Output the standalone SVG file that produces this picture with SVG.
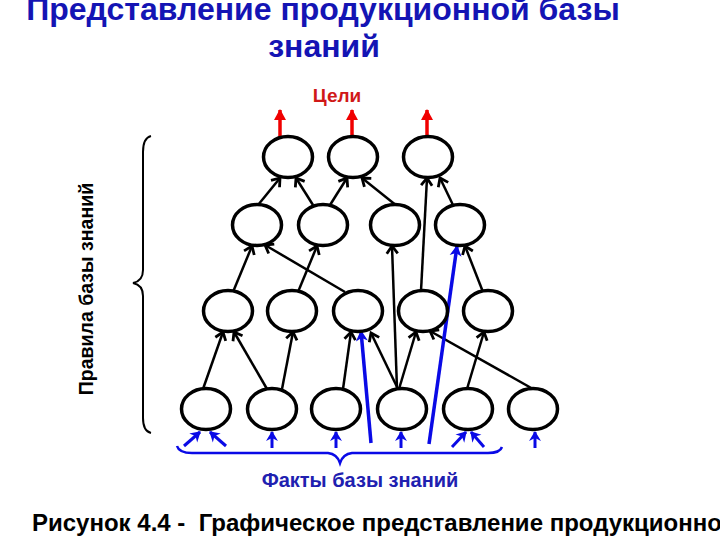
<svg xmlns="http://www.w3.org/2000/svg" width="720" height="540" viewBox="0 0 720 540">
<style>
.node{fill:#fff;stroke:#000;stroke-width:3.5}
.e{stroke:#000;stroke-width:2.5;fill:none;marker-end:url(#ab)}
.bl{stroke:#0a0ae6;stroke-width:3.5;fill:none;marker-end:url(#abl)}
.bs{stroke:#0a0ae6;stroke-width:3;fill:none;marker-end:url(#abs)}
.rd{stroke:#f00000;stroke-width:3.5;fill:none;marker-end:url(#ar)}
.t{font-family:"Liberation Sans",Arial,sans-serif;font-weight:bold}
</style>
<defs>
<marker id="ab" markerUnits="userSpaceOnUse" markerWidth="16" markerHeight="16" viewBox="-10 -8 12 16" refX="0" refY="0" orient="auto">
<path d="M-7.5,-5.5 L0,0 L-7.5,5.5" fill="none" stroke="#000" stroke-width="2.8"/>
</marker>
<marker id="abl" markerUnits="userSpaceOnUse" markerWidth="16" markerHeight="16" viewBox="-12 -8 14 16" refX="0" refY="0" orient="auto">
<path d="M1,0 L-10,-6 L-7,0 L-10,6 Z" fill="#0a0ae6"/>
</marker>
<marker id="abs" markerUnits="userSpaceOnUse" markerWidth="16" markerHeight="16" viewBox="-12 -8 14 16" refX="0" refY="0" orient="auto">
<path d="M1,0 L-9,-6 L-6,0 L-9,6 Z" fill="#0a0ae6"/>
</marker>
<marker id="ar" markerUnits="userSpaceOnUse" markerWidth="16" markerHeight="16" viewBox="-12 -8 14 16" refX="0" refY="0" orient="auto">
<path d="M1,0 L-10,-6 L-10,6 Z" fill="#f00000"/>
</marker>
</defs>
<rect width="720" height="540" fill="#fff"/>
<g id="title">
<text class="t" x="323" y="20" font-size="32" fill="#1414b4" text-anchor="middle">Представление продукционной базы</text>
<text class="t" x="324" y="57" font-size="32" fill="#1414b4" text-anchor="middle">знаний</text>
</g>
<g id="goals-label"><text class="t" x="337" y="102" font-size="19" fill="#d01818" text-anchor="middle">Цели</text></g>
<g id="rules-label">
<text class="t" x="0" y="0" font-size="19.5" fill="#000" text-anchor="middle" transform="translate(93,289) rotate(-90)">Правила базы знаний</text>
<path d="M151,136 Q143,138 143,152 L143,270 Q143,281 133,283 Q143,285 143,296 L143,418 Q143,431 151,433" fill="none" stroke="#000" stroke-width="2"/>
</g>
<g id="facts-label">
<path d="M177,446 Q179,453 192,453 L328,453 Q337,454 340,463 Q343,454 352,453 L488,453 Q500,453 502,447" fill="none" stroke="#0a0ae6" stroke-width="2.5"/>
<text class="t" x="360" y="487" font-size="20" fill="#2020b0" text-anchor="middle">Факты базы знаний</text>
</g>
<g id="connectors">
<path class="rd" d="M280,137 L280,110"/>
<path class="rd" d="M352,137 L352,110"/>
<path class="rd" d="M427,137 L427,110"/>
<path class="e" d="M258,205 L280,178"/>
<path class="e" d="M313,205 L296,178"/>
<path class="e" d="M330,205 L347,178"/>
<path class="e" d="M397,206 L362,178"/>
<path class="e" d="M421,291 L427,178"/>
<path class="e" d="M453,205 L440,178"/>
<path class="e" d="M233,292 L252,246"/>
<path class="e" d="M345,292 L265,245"/>
<path class="e" d="M298,292 L317,246"/>
<path class="e" d="M397,389 L392,246"/>
<path class="e" d="M483,292 L465,246"/>
<path class="e" d="M203,389 L223,332"/>
<path class="e" d="M267,389 L234,332"/>
<path class="e" d="M282,389 L293,332"/>
<path class="e" d="M343,389 L351,332"/>
<path class="e" d="M398,389 L371,333"/>
<path class="e" d="M399,389 L416,332"/>
<path class="e" d="M467,389 L484,332"/>
<path class="e" d="M533,389 L430,331"/>
<path class="bl" d="M371,443 L361,331"/>
<path class="bl" d="M429,444 L457,246"/>
<path class="bs" d="M184,446 L200,432"/>
<path class="bs" d="M226,446 L210,432"/>
<path class="bs" d="M272,448 L272,432"/>
<path class="bs" d="M336,448 L336,432"/>
<path class="bs" d="M401,448 L401,432"/>
<path class="bs" d="M452,447 L466,432"/>
<path class="bs" d="M484,447 L471,432"/>
<path class="bs" d="M535,448 L535,432"/>
</g>
<g id="n-t1"><ellipse class="node" cx="288" cy="157" rx="24.5" ry="20.5"/></g>
<g id="n-t2"><ellipse class="node" cx="353" cy="157" rx="24.5" ry="20.5"/></g>
<g id="n-t3"><ellipse class="node" cx="428" cy="157" rx="24.5" ry="20.5"/></g>
<g id="n-m1"><ellipse class="node" cx="257" cy="225" rx="24.5" ry="20.5"/></g>
<g id="n-m2"><ellipse class="node" cx="323" cy="225" rx="24.5" ry="20.5"/></g>
<g id="n-m3"><ellipse class="node" cx="395" cy="225" rx="24.5" ry="20.5"/></g>
<g id="n-m4"><ellipse class="node" cx="460" cy="225" rx="24.5" ry="20.5"/></g>
<g id="n-l1"><ellipse class="node" cx="228" cy="311" rx="24.5" ry="20.5"/></g>
<g id="n-l2"><ellipse class="node" cx="292" cy="311" rx="24.5" ry="20.5"/></g>
<g id="n-l3"><ellipse class="node" cx="358" cy="311" rx="24.5" ry="20.5"/></g>
<g id="n-l4"><ellipse class="node" cx="423" cy="311" rx="24.5" ry="20.5"/></g>
<g id="n-l5"><ellipse class="node" cx="488" cy="311" rx="24.5" ry="20.5"/></g>
<g id="n-b1"><ellipse class="node" cx="206" cy="409" rx="24.5" ry="20.5"/></g>
<g id="n-b2"><ellipse class="node" cx="272" cy="409" rx="24.5" ry="20.5"/></g>
<g id="n-b3"><ellipse class="node" cx="336" cy="409" rx="24.5" ry="20.5"/></g>
<g id="n-b4"><ellipse class="node" cx="402" cy="409" rx="24.5" ry="20.5"/></g>
<g id="n-b5"><ellipse class="node" cx="468" cy="409" rx="24.5" ry="20.5"/></g>
<g id="n-b6"><ellipse class="node" cx="533" cy="409" rx="24.5" ry="20.5"/></g>
<g id="caption">
<text class="t" x="32" y="531" font-size="24" fill="#000" xml:space="preserve">Рисунок 4.4 -  Графическое представление продукционно</text>
</g>
</svg>
